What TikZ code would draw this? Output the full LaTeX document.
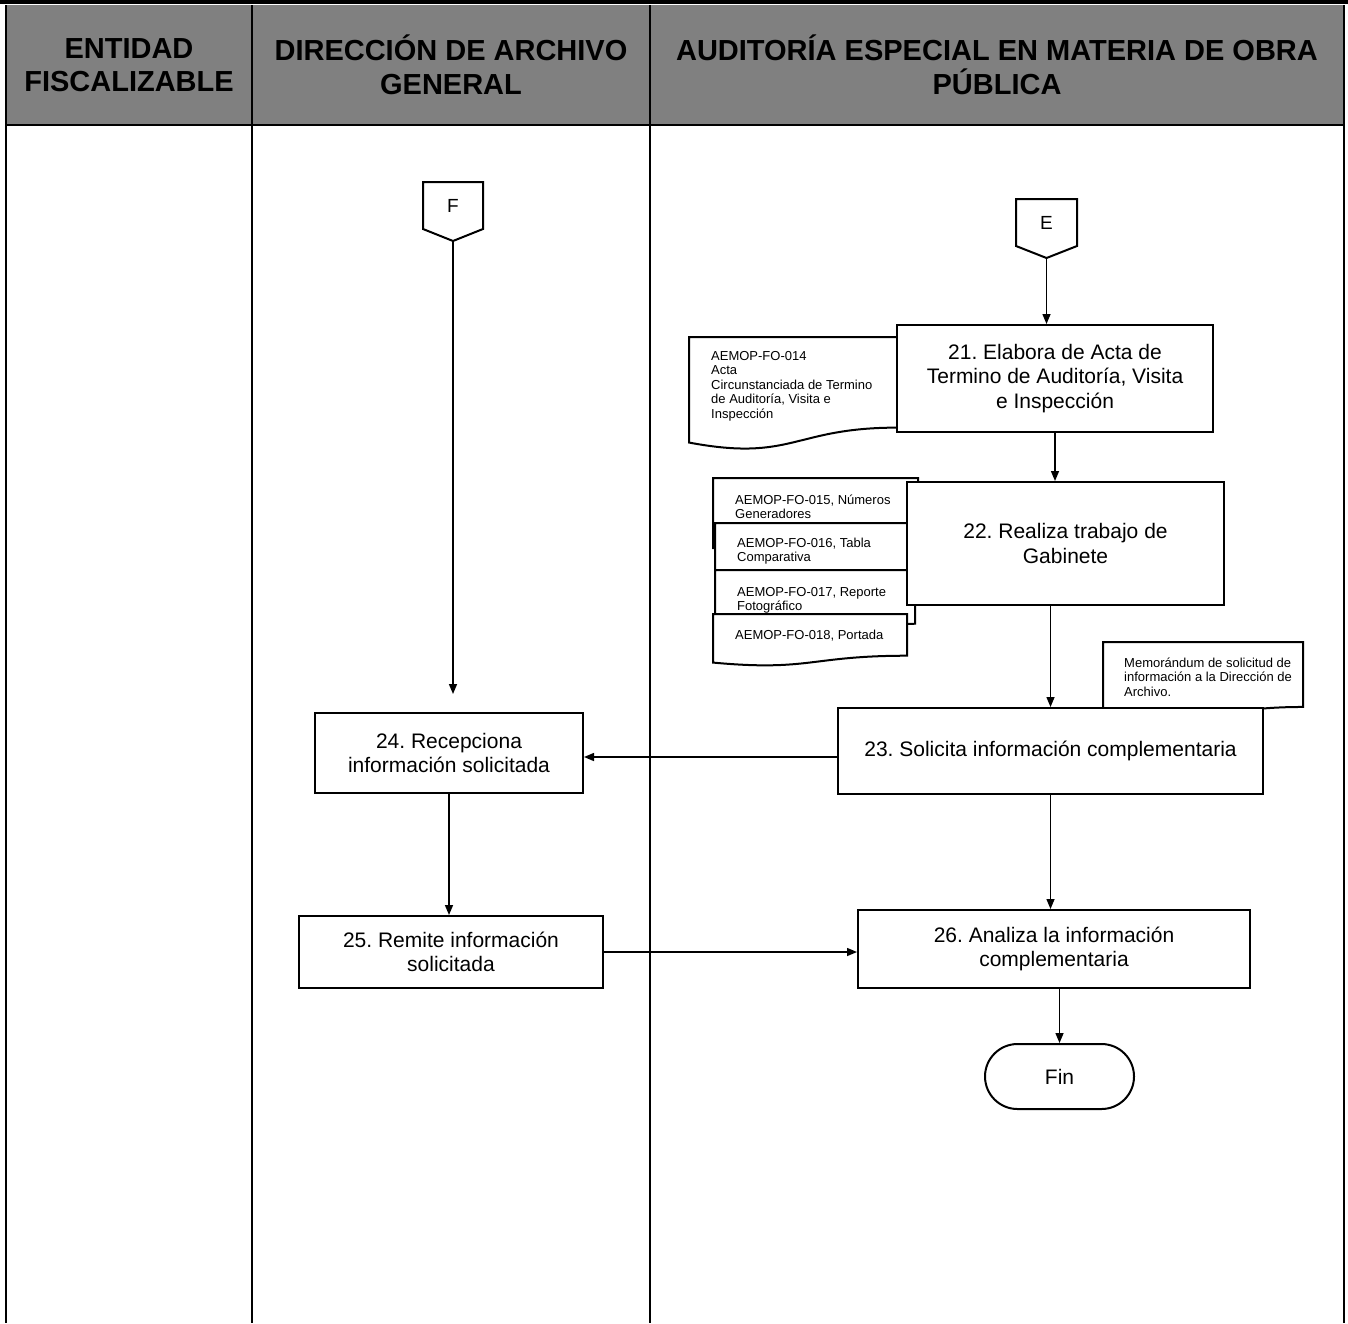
\documentclass[tikz,border=0pt]{standalone}
\usepackage{fontspec}
\setmainfont{Liberation Sans}
\usetikzlibrary{arrows.meta,shapes.misc}
\definecolor{headgray}{RGB}{128,128,128}
\frenchspacing

% document symbol with a wavy bottom edge: left, top, right, full height
\newcommand\wavydoc[4]{%
  \path[docline] ({#1},{#2}) -- ({#3},{#2}) -- ({#3},{#2+0.802*#4})
    .. controls ({(#1+#3)/2},{#2+0.802*#4}) and ({(#1+#3)/2},{#2+1.107*#4})
    .. ({#1},{#2+0.934*#4}) -- cycle;}
% off-page connector: left, top, right, side bottom, tip
\newcommand\offpagemark[5]{%
  \path[docline] ({#1},{#2}) -- ({#3},{#2}) -- ({#3},{#4}) -- ({(#1+#3)/2},{#5}) -- ({#1},{#4}) -- cycle;}
\newcommand\firstline{\rule{0pt}{12pt}}

\begin{document}
\begin{tikzpicture}[x=1pt,y=-1pt,
  procbox/.style={draw,line width=2pt,fill=white,align=center,inner sep=0pt,
    font=\fontsize{21}{24.5}\selectfont},
  conn/.style={line width=1.5pt,-{Triangle[length=10pt,width=8pt]}},
  docline/.style={draw,line width=2pt,fill=white},
  doctext/.style={anchor=north west,align=left,inner sep=0pt,
    font=\fontsize{13}{14.5}\selectfont},
  headtext/.style={align=center,inner sep=0pt,font=\bfseries\fontsize{29}{33.5}\selectfont},
  marktext/.style={inner sep=0pt,font=\fontsize{19}{22}\selectfont},
  lane/.style={line width=2pt}]

\useasboundingbox (0,0) rectangle (1348,1323);

% ---------- swimlane frame ----------
\fill[headgray] (6,5) rectangle (1344,125);
\fill (0,0) rectangle (1348,3.5);
\draw[lane] (6,5) -- (6,1323);
\draw[lane] (1344,5) -- (1344,1323);
\draw[lane] (252,5) -- (252,1323);
\draw[lane] (650,5) -- (650,1323);
\draw[lane] (6,125) -- (1344,125);

\node[headtext] (h1) at (129,65) {ENTIDAD\\FISCALIZABLE};
\node[headtext] (h2) at (451,65) {DIRECCIÓN DE ARCHIVO\\GENERAL};
\node[headtext] (h3) at (997,65) {AUDITORÍA ESPECIAL EN MATERIA DE OBRA\\PÚBLICA};

% ---------- off-page connectors ----------
\offpagemark{423}{182}{483}{229}{241}
\node[marktext] (F) at (453,206) {F};
\coordinate (Ftip) at (453,241);
\coordinate (Fend) at (453,694);

\offpagemark{1016}{199}{1077}{246}{258}
\node[marktext] (E) at (1046.5,223) {E};
\coordinate (Etip) at (1046.5,258);

% ---------- step 21 ----------
\wavydoc{689}{337}{897}{113}
\node[doctext] (d14) at (711,348) {\firstline AEMOP-FO-014\\Acta\\Circunstanciada de Termino\\de Auditoría, Visita e\\Inspección};
\node[procbox,minimum width=316,minimum height=107] (b21) at (1055,378.5)
  {21. Elabora de Acta de\\Termino de Auditoría, Visita\\e Inspección};

% ---------- step 22 ----------
\wavydoc{713}{478}{918}{75}
\wavydoc{715}{523}{907}{60}
\wavydoc{715}{570}{915}{67}
\wavydoc{713}{614}{907}{52}
\node[doctext] (d15) at (735,492) {\firstline AEMOP-FO-015, Números\\Generadores};
\node[doctext] (d16) at (737,535) {\firstline AEMOP-FO-016, Tabla\\Comparativa};
\node[doctext] (d17) at (737,584) {\firstline AEMOP-FO-017, Reporte\\Fotográfico};
\node[doctext] (d18) at (735,627) {\firstline AEMOP-FO-018, Portada};
\node[procbox,minimum width=317,minimum height=123] (b22) at (1065.5,543.5)
  {22. Realiza trabajo de\\Gabinete};

% ---------- step 23 ----------
\wavydoc{1103}{642}{1303}{81}
\node[doctext] (dmemo) at (1124,655) {\firstline Memorándum de solicitud de\\información a la Dirección de\\Archivo.};
\node[procbox,minimum width=425,minimum height=86] (b23) at (1050.5,751)
  {23. Solicita información complementaria};

% ---------- steps 24 to 26 ----------
\node[procbox,minimum width=268,minimum height=80] (b24) at (449,753)
  {24. Recepciona\\información solicitada};
\node[procbox,minimum width=304,minimum height=72] (b25) at (451,952)
  {25. Remite información\\solicitada};
\node[procbox,minimum width=392,minimum height=78] (b26) at (1054,949)
  {26. Analiza la información\\complementaria};
\node[draw,line width=2pt,fill=white,rounded rectangle,inner sep=0pt,
  minimum width=149,minimum height=65,font=\fontsize{21}{24.5}\selectfont] (fin) at (1059.5,1076.5) {Fin};

% ---------- connectors ----------
\draw[conn] (Ftip) -- (Fend);
\draw[conn] (Etip) -- (Etip |- b21.north);
\draw[conn] (b21.south) -- (b21.south |- b22.north);
\draw[conn] (b23.north |- b22.south) -- (b23.north);
\draw[conn] ([yshift=-6pt]b23.west) -- ([yshift=-6pt]b23.west -| b24.east);
\draw[conn] (b24.south) -- (b24.south |- b25.north);
\draw[conn] (b25.east) -- (b25.east -| b26.west);
\draw[conn] (b23.south) -- (b23.south |- b26.north);
\draw[conn] (fin.north |- b26.south) -- (fin.north);

\end{tikzpicture}
\end{document}
